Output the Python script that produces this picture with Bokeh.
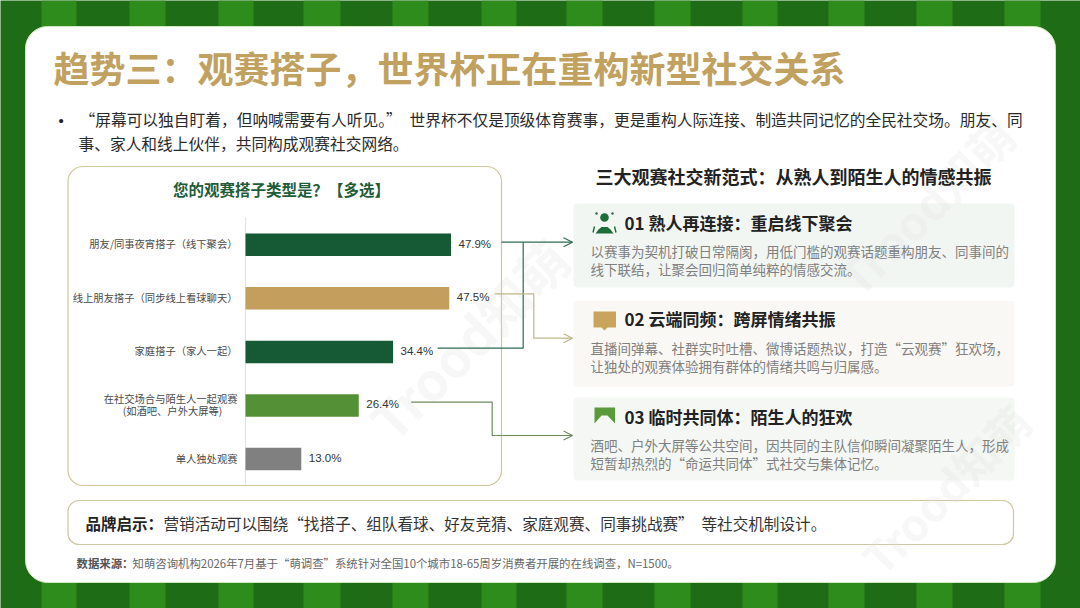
from bokeh.plotting import figure
from bokeh.models import Range1d
from bokeh.core.properties import value
from bokeh.embed import file_html
from bokeh.resources import INLINE

# ---------- data ----------
categories = ["朋友/同事夜宵搭子（线下聚会）", "线上朋友搭子（同步线上看球聊天）", "家庭搭子（家人一起）",
              "在社交场合与陌生人一起观赛", "单人独处观赛"]
category_note = "(如酒吧、户外大屏等)"
shares = [47.9, 47.5, 34.4, 26.4, 13.0]
share_labels = ["47.9%", "47.5%", "34.4%", "26.4%", "13.0%"]
bar_colors = ["#155a34", "#c49e5c", "#155a34", "#549136", "#808080"]

title_text = "趋势三：观赛搭子，世界杯正在重构新型社交关系"
intro_lines = ["“屏幕可以独自盯着，但呐喊需要有人听见。”\u2002世界杯不仅是顶级体育赛事，更是重构人际连接、制造共同记忆的全民社交场。朋友、同",
               "事、家人和线上伙伴，共同构成观赛社交网络。"]
chart_title = "您的观赛搭子类型是？【多选】"
side_title = "三大观赛社交新范式：从熟人到陌生人的情感共振"
card_titles = ["01 熟人再连接：重启线下聚会", "02 云端同频：跨屏情绪共振", "03 临时共同体：陌生人的狂欢"]
card_bodies = [["以赛事为契机打破日常隔阂，用低门槛的观赛话题重构朋友、同事间的", "线下联结，让聚会回归简单纯粹的情感交流。"],
               ["直播间弹幕、社群实时吐槽、微博话题热议，打造“云观赛”狂欢场，", "让独处的观赛体验拥有群体的情绪共鸣与归属感。"],
               ["酒吧、户外大屏等公共空间，因共同的主队信仰瞬间凝聚陌生人，形成", "短暂却热烈的“命运共同体”式社交与集体记忆。"]]
brand_head = "品牌启示："
brand_body = "营销活动可以围绕“找搭子、组队看球、好友竞猜、家庭观赛、同事挑战赛”\u2002等社交机制设计。"
source_head = "数据来源："
source_body = "知萌咨询机构2026年7月基于“萌调查”系统针对全国10个城市18-65周岁消费者开展的在线调查，N=1500。"
watermark = "Trood知萌"

# ---------- layout / style ----------
CJK = value("Noto Sans CJK SC")
LATIN = value("Liberation Sans")
DARK, LIGHT = "#1f6c16", "#2e8c1d"
W, H = 1080, 608
stripe_left = [41, 129, 218, 303, 392, 481, 566, 654, 742, 828, 916, 1004]
stripe_right = [76, 165, 253, 340, 428, 516, 602, 690, 777, 864, 952, 1040]

p = figure(width=W, height=H, output_backend="svg", toolbar_location=None,
           x_range=Range1d(0, W), y_range=Range1d(H, 0),
           min_border=0, outline_line_color=None, background_fill_color=DARK, border_fill_color=DARK)
p.axis.visible = False
p.grid.visible = False

# bar chart scales: zero at pixel 245, 4.29 px per percent; rows 53.55 px apart from 244.3
PX_PER_PCT, ZERO_PX = 4.29, 245.0
ROW_PX, ROW0_PX = 53.55, 244.3
p.extra_x_ranges["pct"] = Range1d((0 - ZERO_PX) / PX_PER_PCT, (W - ZERO_PX) / PX_PER_PCT)
p.extra_y_ranges["rows"] = Range1d((H - ROW0_PX) / ROW_PX, (0 - ROW0_PX) / ROW_PX)


def txt(x, y, s, size, color, align="left", style="normal", font=CJK, **kw):
    p.text([x], [y], text=[s], text_font=font, text_font_size=f"{size}px", text_color=color,
           text_align=align, text_baseline="middle", text_font_style=style, **kw)


def box(l, r, t, b, fill, line=None, radius=0, width=1):
    p.quad(left=[l], right=[r], top=[t], bottom=[b], fill_color=fill, line_color=line,
           line_width=width, border_radius=radius)


# pitch stripes
p.quad(left=stripe_left, right=stripe_right, top=0, bottom=H, fill_color=LIGHT, line_color=None)

# panels
box(25, 1055, 26, 582, "#ffffff", "#cfe8bd", 22, 1)
box(67.5, 501, 166, 485, "#ffffff", "#cfc79b", 15, 1.2)
card_boxes = [(203, 287, "#f2f6f3"), (300.5, 386, "#faf8f4"), (397, 480, "#f4f7f3")]
for top, bot, fill in card_boxes:
    box(573, 1014, top, bot, fill, None, 4)
box(67.5, 1013, 500, 544, "#ffffff", "#cfc7a6", 11, 1.2)

# watermarks
for wx, wy, ws in [(945, 488, 44), (468, 338, 52), (925, 205, 46)]:
    txt(wx, wy, watermark, ws, "#dcdcdc", align="center", style="bold", text_alpha=0.22,
        angle=45, angle_units="deg")

txt(53, 66, title_text, 36, "#c0a160", style="bold")
txt(58, 120, "•", 15, "#222222", font=LATIN)
txt(79, 119, intro_lines[0], 15.72, "#2a2a2a")
txt(78, 143, intro_lines[1], 15.72, "#2a2a2a")

# chart
txt(281, 188.5, chart_title, 15.5, "#1f5c3a", align="center", style="bold")
p.segment([0], [-0.51], [0], [4.49], line_color="#e2e2e2", line_width=1, x_range_name="pct", y_range_name="rows")

rows = list(range(len(shares)))
p.hbar(y=rows, left=0, right=shares, height=0.42, fill_color=bar_colors, line_color=None,
       x_range_name="pct", y_range_name="rows")
p.text(x=shares, y=rows, text=share_labels, x_offset=7.5, y_offset=-1, text_font=LATIN, text_font_size="11.5px",
       text_color="#333333", text_baseline="middle", x_range_name="pct", y_range_name="rows")
single = [i for i in rows if i != 3]
p.text(x=[0] * len(single), y=single, text=[categories[i] for i in single], x_offset=-8, y_offset=-1, text_font=CJK,
       text_font_size="10.3px", text_color="#4a4a4a", text_align="right", text_baseline="middle",
       x_range_name="pct", y_range_name="rows")
p.text(x=[0], y=[3], text=[categories[3]], x_offset=-8, y_offset=-7, text_font=CJK, text_font_size="10.3px",
       text_color="#4a4a4a", text_align="right", text_baseline="middle", x_range_name="pct", y_range_name="rows")
txt(172, 410, category_note, 10.3, "#4a4a4a", align="center")

# connectors
def arrow(tip, y, color):
    p.line([tip - 9, tip, tip - 9], [y - 4.5, y, y + 4.5], line_color=color, line_width=1.2)

p.line([501, 572], [241.7, 241.7], line_color="#2f6b50", line_width=1.2)
p.line([437, 522.7, 522.7], [347.7, 347.7, 241.7], line_color="#2f6b50", line_width=1.2)
arrow(572, 241.7, "#2f6b50")
p.line([494, 533.3, 533.3, 572], [293.3, 293.3, 337.7, 337.7], line_color="#bdb68a", line_width=1.2)
arrow(572, 337.7, "#bdb68a")
p.line([410.7, 491.7, 491.7, 572], [401.7, 401.7, 435, 435], line_color="#6d8a60", line_width=1.2)
arrow(572, 435, "#6d8a60")

# right column
txt(595, 175.5, side_title, 18, "#222222", style="bold")
title_y = [222, 318, 415.5]
body_y = [(250.5, 268), (347.5, 365), (444.5, 462.5)]
for ty, (y1, y2), ct, cb in zip(title_y, body_y, card_titles, card_bodies):
    txt(624, ty, ct, 17, "#222222", style="bold")
    txt(590, y1, cb[0], 13.5, "#808080")
    txt(590, y2, cb[1], 13.5, "#808080")

# card icons
G1 = "#1f6b3a"
p.circle([604], [217], radius=4.3, fill_color=G1, line_color=None)
p.patch([595, 598, 601, 607, 610, 613, 613, 595], [233, 229, 226.5, 226.5, 229, 233, 233, 233], fill_color=G1, line_color=None)
p.circle([596, 612], [213, 213], radius=1.2, fill_color=G1, line_color=None)
p.line([594, 592.5], [226, 232], line_color=G1, line_width=1.4)
p.line([614, 615.5], [226, 232], line_color=G1, line_width=1.4)
p.patch([593, 615.5, 615.5, 607, 604, 601, 593], [311, 311, 327, 327, 330, 327, 327], fill_color="#c9a45c", line_color=None)
p.patch([594, 614.5, 614.5, 607, 601, 594], [407, 407, 423, 415, 415, 423], fill_color="#5a9a3a", line_color=None)

# brand banner + source
txt(85, 522.5, brand_head, 15.5, "#222222", style="bold")
txt(163, 522.5, brand_body, 15.6, "#333333")
txt(76, 562, source_head, 11.4, "#555555", style="bold")
txt(132, 562, source_body, 11.4, "#666666")

open("out.html", "w").write(file_html(p, INLINE))
